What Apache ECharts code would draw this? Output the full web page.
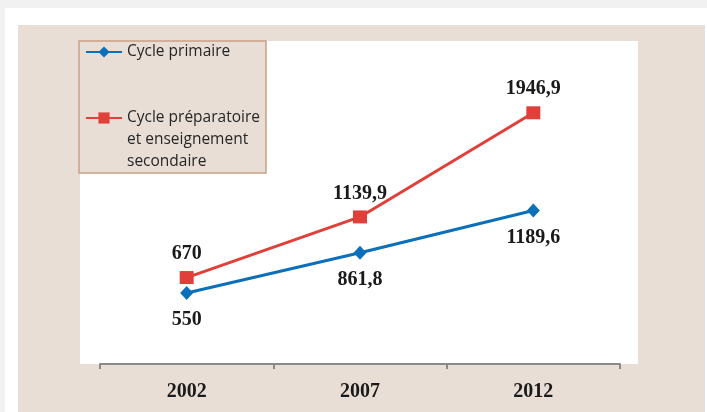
<!DOCTYPE html>
<html>
<head>
<meta charset="utf-8">
<script src="https://cdn.jsdelivr.net/npm/echarts@6/dist/echarts.min.js"></script>
<style>
html,body{margin:0;padding:0;background:#f1f1f1;}
#c{width:707px;height:412px;}
</style>
</head>
<body>
<div id="c"></div>
<script>
const years = ['2002', '2007', '2012'];
const primaire = [550, 861.8, 1189.6];
const secondaire = [670, 1139.9, 1946.9];
const seriesNames = ['Cycle primaire', 'Cycle préparatoire et enseignement secondaire'];
const legendLabels = ['Cycle primaire', '\n\nCycle préparatoire\net enseignement\nsecondaire'];

const fmt = v => String(v).replace('.', ',');

const chart = echarts.init(document.getElementById('c'), null, {renderer: 'canvas'});
const labelFont = {
  fontFamily: '"Liberation Serif", "Times New Roman", serif',
  fontWeight: 'bold',
  fontSize: 20,
  color: '#1a1a1a'
};
chart.setOption({
  backgroundColor: '#f1f1f1',
  animation: false,
  graphic: [
    {type: 'rect', z: -10, shape: {x: 5, y: 8, width: 702, height: 404}, style: {fill: '#ffffff'}, silent: true},
    {type: 'rect', z: -9, shape: {x: 18, y: 25, width: 687, height: 387}, style: {fill: '#e8ded5'}, silent: true},
    {type: 'rect', z: -8, shape: {x: 80, y: 41, width: 558, height: 323}, style: {fill: '#ffffff'}, silent: true}
  ],
  grid: {left: 100, right: 87, top: 44, bottom: 48, containLabel: false},
  legend: {
    orient: 'vertical',
    left: 79,
    top: 41,
    padding: [0, 6, 0, 6],
    itemGap: 0,
    itemWidth: 36,
    itemHeight: 14,
    backgroundColor: '#e8ded5',
    borderColor: '#c9a085',
    borderWidth: 1.5,
    borderRadius: 0,
    data: seriesNames,
    formatter: name => legendLabels[seriesNames.indexOf(name)],
    textStyle: {
      fontFamily: '"Open Sans", "Noto Sans", sans-serif',
      fontSize: 15.5,
      lineHeight: 22,
      color: '#262626'
    }
  },
  xAxis: {
    type: 'category',
    data: years,
    boundaryGap: true,
    axisLine: {show: true, lineStyle: {color: '#8a8a8a', width: 2}},
    axisTick: {show: true, length: 5, lineStyle: {color: '#8a8a8a', width: 2}},
    axisLabel: Object.assign({margin: 18}, labelFont),
    splitLine: {show: false}
  },
  yAxis: {
    type: 'value',
    min: 0,
    max: 2480,
    show: false,
    splitLine: {show: false}
  },
  series: [
    {
      name: seriesNames[0],
      type: 'line',
      data: primaire,
      symbol: 'diamond',
      symbolSize: [13, 14],
      lineStyle: {color: '#0b6fba', width: 3},
      itemStyle: {color: '#0b6fba'},
      label: Object.assign({show: true, position: 'bottom', distance: 10, formatter: p => fmt(p.value)}, labelFont)
    },
    {
      name: seriesNames[1],
      type: 'line',
      data: secondaire,
      symbol: 'rect',
      symbolSize: [14, 13],
      lineStyle: {color: '#e0403a', width: 3},
      itemStyle: {color: '#e0403a'},
      label: Object.assign({show: true, position: 'top', distance: 7, formatter: p => fmt(p.value)}, labelFont)
    }
  ]
});
</script>
</body>
</html>
